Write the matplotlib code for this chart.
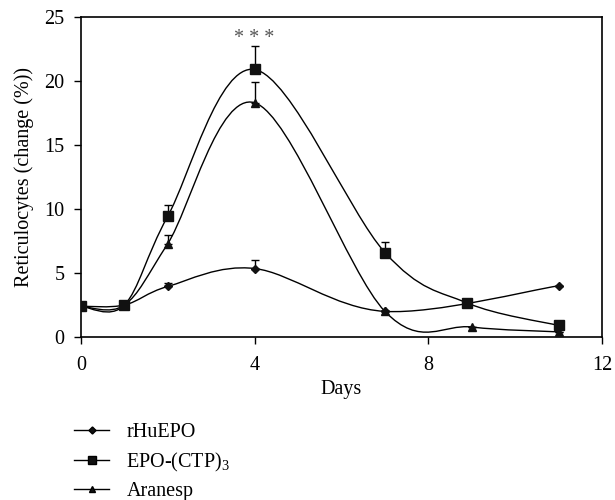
import numpy as np
import matplotlib
matplotlib.use('Agg')
import matplotlib.pyplot as plt
from matplotlib.path import Path
from matplotlib.patches import PathPatch
from matplotlib.lines import Line2D

# values
days_rhu = [0, 1, 2, 4, 7, 11]
rhu = [2.4, 2.5, 3.95, 5.35, 2.0, 4.0]
rhu_err = [0, 0, 0.3, 0.65, 0, 0]

days_ctp = [0, 1, 2, 4, 7, 8.9, 11]
ctp = [2.4, 2.5, 9.45, 20.9, 6.6, 2.65, 0.9]
ctp_err = [0, 0, 0.85, 1.8, 0.8, 0, 0]

days_ara = [0, 1, 2, 4, 7, 9, 11]
ara = [2.4, 2.5, 7.3, 18.3, 2.0, 0.78, 0.4]
ara_err = [0, 0, 0.7, 1.6, 0, 0, 0]

labels = ['rHuEPO', 'EPO-(CTP)$_3$', 'Aranesp']


def smooth_path(x, y):
    # catmull-rom like smoothing, built as bezier segments in data space
    pts = np.column_stack([x, y]).astype(float)
    n = len(pts)
    verts = [pts[0]]
    codes = [Path.MOVETO]
    for i in range(n - 1):
        p_prev = pts[i - 1] if i > 0 else pts[i]
        p_next = pts[i + 2] if i + 2 < n else pts[i + 1]
        c1 = pts[i] + (pts[i + 1] - p_prev) / 6.0
        c2 = pts[i + 1] - (p_next - pts[i]) / 6.0
        verts += [c1, c2, pts[i + 1]]
        codes += [Path.CURVE4] * 3
    return Path(verts, codes)


def main():
    plt.rcParams['font.family'] = ['Liberation Serif', 'DejaVu Serif']
    plt.rcParams['font.size'] = 14.5
    plt.rcParams['mathtext.fontset'] = 'custom'
    plt.rcParams['mathtext.rm'] = 'Liberation Serif'

    fig = plt.figure(figsize=(6.15, 5.0), dpi=100)
    ax = fig.add_axes([0.1317, 0.326, 0.8472, 0.640])

    series = [
        (days_rhu, rhu, rhu_err, 'D', 4.2),
        (days_ctp, ctp, ctp_err, 's', 6.5),
        (days_ara, ara, ara_err, '^', 5.5),
    ]
    handles = []
    for (dx, dy, de, mk, ms), lab in zip(series, labels):
        ax.add_patch(PathPatch(smooth_path(dx, dy), fill=False,
                               edgecolor='black', lw=1.0, zorder=2))
        low = np.zeros(len(de))
        ax.errorbar(dx, dy, yerr=[low, de], fmt='none', ecolor='black',
                    elinewidth=1.0, capsize=3.2, capthick=1.0, zorder=2)
        ax.plot(dx, dy, linestyle='none', marker=mk, ms=ms, color='#111111',
                zorder=3)
        handles.append(Line2D([], [], color='black', lw=1.0, marker=mk,
                              ms=ms * 0.85, markerfacecolor='#111111'))

    ax.text(4, 23.3, '* * *', ha='center', va='center', fontsize=14.5,
            color='#555555')

    ax.set_xlim(0, 12)
    ax.set_ylim(0, 25)
    ax.set_xticks([0, 4, 8, 12])
    ax.set_yticks([0, 5, 10, 15, 20, 25])
    ax.tick_params(direction='out', length=5, width=1.0)
    ax.tick_params(axis='x', pad=9)
    ax.tick_params(axis='y', pad=7)
    for sp in ax.spines.values():
        sp.set_linewidth(1.2)
    ax.set_xlabel('Days', labelpad=3)
    ax.set_ylabel('Reticulocytes (change (%))', labelpad=7)

    fig.legend(handles, labels, loc='upper left',
               bbox_to_anchor=(0.121, 0.154), frameon=False,
               handlelength=1.74, handletextpad=0.84, labelspacing=0.42,
               borderaxespad=0, borderpad=0)

    fig.savefig('out.png', dpi=100)


if __name__ == '__main__':
    plt.close('all')
    main()
